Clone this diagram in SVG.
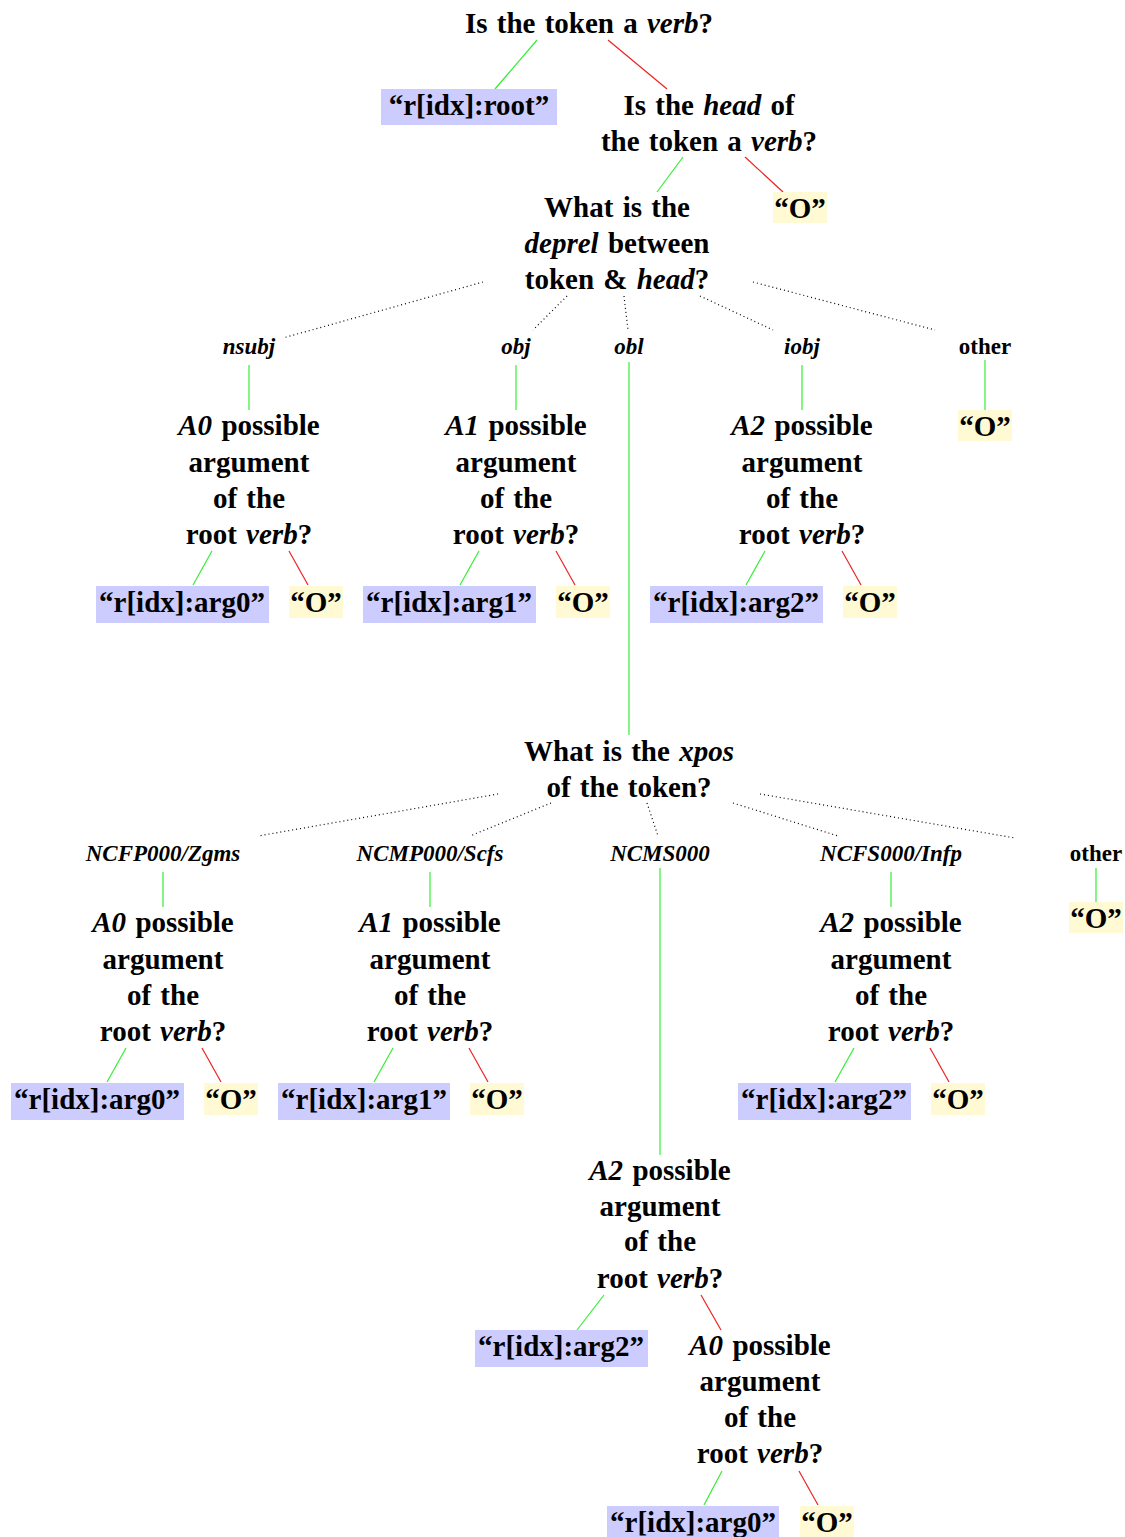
<svg xmlns="http://www.w3.org/2000/svg" width="1125" height="1537" viewBox="0 0 1125 1537">
<style>
text{font-family:"Liberation Serif","Times New Roman",serif;font-weight:bold;fill:#000}
.n{font-size:29px;text-anchor:middle;word-spacing:2px}
.l{font-size:23px;text-anchor:middle}
.i{font-style:italic}
.yes{stroke:#33ee33;stroke-width:1.2;fill:none}
.no{stroke:#ee2222;stroke-width:1.2;fill:none}
.dot{stroke:#000;stroke-width:1.2;stroke-dasharray:1 3;fill:none}
.blue{fill:#ccccff}
.yel{fill:#fff9d4}
</style>
<rect width="1125" height="1537" fill="#fff"/>
<g id="connectors">
<line class="yes" x1="537" y1="40" x2="495" y2="89"/>
<line class="no" x1="608" y1="40" x2="667" y2="89"/>
<line class="yes" x1="683" y1="157" x2="657" y2="192"/>
<line class="no" x1="745" y1="157" x2="783" y2="192"/>
<line class="dot" x1="483" y1="282" x2="283" y2="338"/>
<line class="dot" x1="567" y1="296" x2="533" y2="330"/>
<line class="dot" x1="624" y1="296" x2="628" y2="330"/>
<line class="dot" x1="700" y1="296" x2="773" y2="330"/>
<line class="dot" x1="753" y1="282" x2="935" y2="330"/>
<line class="yes" x1="249" y1="365" x2="249" y2="410"/>
<line class="yes" x1="516" y1="365" x2="516" y2="410"/>
<line class="yes" x1="629" y1="362" x2="629" y2="735"/>
<line class="yes" x1="802" y1="365" x2="802" y2="410"/>
<line class="yes" x1="985" y1="360" x2="985" y2="410"/>
<line class="yes" x1="212" y1="551" x2="193" y2="585"/>
<line class="no" x1="289" y1="551" x2="308" y2="585"/>
<line class="yes" x1="479" y1="551" x2="460" y2="585"/>
<line class="no" x1="556" y1="551" x2="575" y2="585"/>
<line class="yes" x1="765" y1="551" x2="746" y2="585"/>
<line class="no" x1="842" y1="551" x2="861" y2="585"/>
<line class="dot" x1="498" y1="794" x2="258" y2="836"/>
<line class="dot" x1="551" y1="803" x2="470" y2="836"/>
<line class="dot" x1="647" y1="803" x2="658" y2="836"/>
<line class="dot" x1="733" y1="803" x2="838" y2="836"/>
<line class="dot" x1="760" y1="794" x2="1015" y2="838"/>
<line class="yes" x1="163" y1="872" x2="163" y2="907"/>
<line class="yes" x1="430" y1="872" x2="430" y2="907"/>
<line class="yes" x1="660" y1="868" x2="660" y2="1155"/>
<line class="yes" x1="891" y1="872" x2="891" y2="907"/>
<line class="yes" x1="1096" y1="868" x2="1096" y2="902"/>
<line class="yes" x1="126" y1="1048" x2="107" y2="1082"/>
<line class="no" x1="202" y1="1048" x2="221" y2="1082"/>
<line class="yes" x1="393" y1="1048" x2="374" y2="1082"/>
<line class="no" x1="469" y1="1048" x2="488" y2="1082"/>
<line class="yes" x1="854" y1="1048" x2="835" y2="1082"/>
<line class="no" x1="930" y1="1048" x2="949" y2="1082"/>
<line class="yes" x1="604" y1="1295" x2="577" y2="1330"/>
<line class="no" x1="701" y1="1295" x2="721" y2="1330"/>
<line class="yes" x1="722" y1="1471" x2="704" y2="1505"/>
<line class="no" x1="799" y1="1471" x2="818" y2="1505"/>
</g>
<g id="q-verb"><text class="n" x="589" y="33">Is the token a <tspan class="i">verb</tspan>?</text></g>
<g id="leaf-root"><rect class="blue" x="381" y="89" width="176" height="36"/><text class="n" x="469" y="115">“r[idx]:root”</text></g>
<g id="q-head"><text class="n" x="709" y="115">Is the <tspan class="i">head</tspan> of</text><text class="n" x="709" y="151">the token a <tspan class="i">verb</tspan>?</text></g>
<g id="leaf-o1"><rect class="yel" x="773" y="192" width="54" height="31"/><text class="n" x="800" y="218">“O”</text></g>
<g id="q-deprel"><text class="n" x="617" y="217">What is the</text><text class="n" x="617" y="253"><tspan class="i">deprel</tspan> between</text><text class="n" x="617" y="289">token &amp; <tspan class="i">head</tspan>?</text></g>
<g id="edge-labels-1">
<text class="l i" x="249" y="354">nsubj</text>
<text class="l i" x="516" y="354">obj</text>
<text class="l i" x="629" y="354">obl</text>
<text class="l i" x="802" y="354">iobj</text>
<text class="l" x="985" y="354">other</text>
</g>
<g id="q-a0-1"><text class="n" x="249" y="435"><tspan class="i">A0</tspan> possible</text><text class="n" x="249" y="472">argument</text><text class="n" x="249" y="508">of the</text><text class="n" x="249" y="544">root <tspan class="i">verb</tspan>?</text></g>
<g id="leaf-arg0-1"><rect class="blue" x="96" y="586" width="173" height="37"/><text class="n" x="182" y="612">“r[idx]:arg0”</text></g>
<g id="leaf-o2"><rect class="yel" x="289" y="586" width="54" height="32"/><text class="n" x="316" y="612">“O”</text></g>
<g id="q-a1-1"><text class="n" x="516" y="435"><tspan class="i">A1</tspan> possible</text><text class="n" x="516" y="472">argument</text><text class="n" x="516" y="508">of the</text><text class="n" x="516" y="544">root <tspan class="i">verb</tspan>?</text></g>
<g id="leaf-arg1-1"><rect class="blue" x="363" y="586" width="173" height="37"/><text class="n" x="449" y="612">“r[idx]:arg1”</text></g>
<g id="leaf-o3"><rect class="yel" x="556" y="586" width="54" height="32"/><text class="n" x="583" y="612">“O”</text></g>
<g id="q-a2-1"><text class="n" x="802" y="435"><tspan class="i">A2</tspan> possible</text><text class="n" x="802" y="472">argument</text><text class="n" x="802" y="508">of the</text><text class="n" x="802" y="544">root <tspan class="i">verb</tspan>?</text></g>
<g id="leaf-arg2-1"><rect class="blue" x="650" y="586" width="173" height="37"/><text class="n" x="736" y="612">“r[idx]:arg2”</text></g>
<g id="leaf-o4"><rect class="yel" x="843" y="586" width="54" height="32"/><text class="n" x="870" y="612">“O”</text></g>
<g id="leaf-o5"><rect class="yel" x="958" y="410" width="54" height="31"/><text class="n" x="985" y="436">“O”</text></g>
<g id="q-xpos"><text class="n" x="629" y="761">What is the <tspan class="i">xpos</tspan></text><text class="n" x="629" y="797">of the token?</text></g>
<g id="edge-labels-2">
<text class="l i" x="163" y="861">NCFP000/Zgms</text>
<text class="l i" x="430" y="861">NCMP000/Scfs</text>
<text class="l i" x="660" y="861">NCMS000</text>
<text class="l i" x="891" y="861">NCFS000/Infp</text>
<text class="l" x="1096" y="861">other</text>
</g>
<g id="q-a0-2"><text class="n" x="163" y="932"><tspan class="i">A0</tspan> possible</text><text class="n" x="163" y="969">argument</text><text class="n" x="163" y="1005">of the</text><text class="n" x="163" y="1041">root <tspan class="i">verb</tspan>?</text></g>
<g id="leaf-arg0-2"><rect class="blue" x="11" y="1083" width="173" height="37"/><text class="n" x="97" y="1109">“r[idx]:arg0”</text></g>
<g id="leaf-o6"><rect class="yel" x="204" y="1083" width="54" height="32"/><text class="n" x="231" y="1109">“O”</text></g>
<g id="q-a1-2"><text class="n" x="430" y="932"><tspan class="i">A1</tspan> possible</text><text class="n" x="430" y="969">argument</text><text class="n" x="430" y="1005">of the</text><text class="n" x="430" y="1041">root <tspan class="i">verb</tspan>?</text></g>
<g id="leaf-arg1-2"><rect class="blue" x="278" y="1083" width="172" height="37"/><text class="n" x="364" y="1109">“r[idx]:arg1”</text></g>
<g id="leaf-o7"><rect class="yel" x="470" y="1083" width="54" height="32"/><text class="n" x="497" y="1109">“O”</text></g>
<g id="q-a2-2"><text class="n" x="891" y="932"><tspan class="i">A2</tspan> possible</text><text class="n" x="891" y="969">argument</text><text class="n" x="891" y="1005">of the</text><text class="n" x="891" y="1041">root <tspan class="i">verb</tspan>?</text></g>
<g id="leaf-arg2-2"><rect class="blue" x="738" y="1083" width="173" height="37"/><text class="n" x="824" y="1109">“r[idx]:arg2”</text></g>
<g id="leaf-o8"><rect class="yel" x="931" y="1083" width="54" height="32"/><text class="n" x="958" y="1109">“O”</text></g>
<g id="leaf-o9"><rect class="yel" x="1069" y="902" width="54" height="31"/><text class="n" x="1096" y="928">“O”</text></g>
<g id="q-a2-3"><text class="n" x="660" y="1180"><tspan class="i">A2</tspan> possible</text><text class="n" x="660" y="1216">argument</text><text class="n" x="660" y="1251">of the</text><text class="n" x="660" y="1288">root <tspan class="i">verb</tspan>?</text></g>
<g id="leaf-arg2-3"><rect class="blue" x="475" y="1330" width="173" height="37"/><text class="n" x="561" y="1356">“r[idx]:arg2”</text></g>
<g id="q-a0-3"><text class="n" x="760" y="1355"><tspan class="i">A0</tspan> possible</text><text class="n" x="760" y="1391">argument</text><text class="n" x="760" y="1427">of the</text><text class="n" x="760" y="1463">root <tspan class="i">verb</tspan>?</text></g>
<g id="leaf-arg0-3"><rect class="blue" x="607" y="1506" width="172" height="31"/><text class="n" x="693" y="1532">“r[idx]:arg0”</text></g>
<g id="leaf-o10"><rect class="yel" x="800" y="1506" width="54" height="31"/><text class="n" x="827" y="1532">“O”</text></g>
</svg>
